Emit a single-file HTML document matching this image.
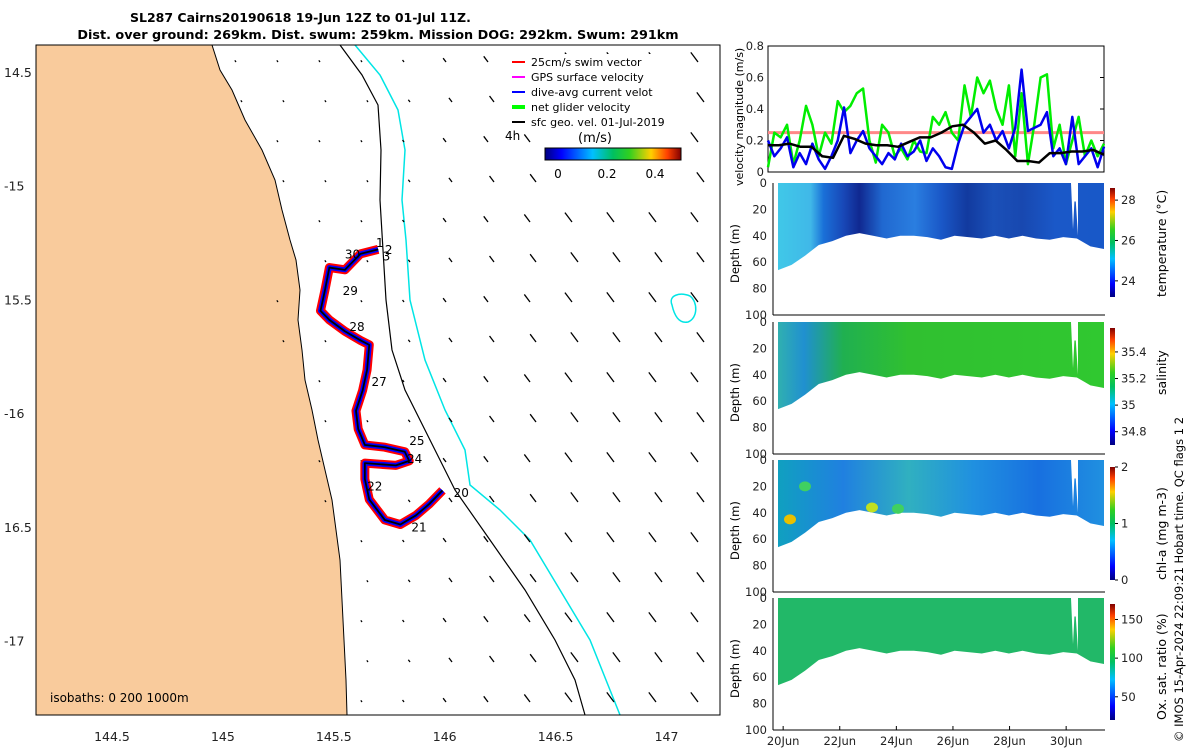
<!DOCTYPE html>
<html><head><meta charset="utf-8"><style>
body{margin:0;background:#fff;}
svg{display:block;font-family:"DejaVu Sans","Liberation Sans",sans-serif;}
</style></head><body>
<svg id="c" width="1200" height="750" xmlns="http://www.w3.org/2000/svg">
<defs>
<linearGradient id="jet" x1="0" y1="1" x2="0" y2="0">
<stop offset="0" stop-color="#00007f"/><stop offset="0.12" stop-color="#0000ff"/><stop offset="0.35" stop-color="#00c0ff"/><stop offset="0.5" stop-color="#00c060"/><stop offset="0.62" stop-color="#30d020"/><stop offset="0.78" stop-color="#ffd000"/><stop offset="0.9" stop-color="#ff4000"/><stop offset="1" stop-color="#800000"/></linearGradient>
<linearGradient id="jeth" x1="0" y1="0" x2="1" y2="0">
<stop offset="0" stop-color="#00007f"/><stop offset="0.12" stop-color="#0000ff"/><stop offset="0.35" stop-color="#00c0ff"/><stop offset="0.5" stop-color="#00c060"/><stop offset="0.62" stop-color="#30d020"/><stop offset="0.78" stop-color="#ffd000"/><stop offset="0.9" stop-color="#ff4000"/><stop offset="1" stop-color="#800000"/></linearGradient>
<linearGradient id="gT" x1="0" y1="0" x2="1" y2="0">
<stop offset="0" stop-color="#40c8e8"/><stop offset="0.1" stop-color="#40b8e8"/><stop offset="0.14" stop-color="#1a70d8"/><stop offset="0.2" stop-color="#1848b8"/><stop offset="0.25" stop-color="#102890"/><stop offset="0.32" stop-color="#2068d0"/><stop offset="0.42" stop-color="#2a7ee0"/><stop offset="0.5" stop-color="#1a58c8"/><stop offset="0.58" stop-color="#123a9f"/><stop offset="0.66" stop-color="#1a50b8"/><stop offset="0.75" stop-color="#1848b0"/><stop offset="0.85" stop-color="#1a58c8"/><stop offset="1" stop-color="#1858c8"/></linearGradient>
<linearGradient id="gS" x1="0" y1="0" x2="1" y2="0">
<stop offset="0" stop-color="#30b0b0"/><stop offset="0.08" stop-color="#2090d0"/><stop offset="0.2" stop-color="#20b050"/><stop offset="0.4" stop-color="#30c030"/><stop offset="1" stop-color="#30c830"/></linearGradient>
<linearGradient id="gC" x1="0" y1="0" x2="1" y2="0">
<stop offset="0" stop-color="#10a0c0"/><stop offset="0.2" stop-color="#2080e0"/><stop offset="0.4" stop-color="#30b0c0"/><stop offset="0.6" stop-color="#2090e0"/><stop offset="0.8" stop-color="#1870e0"/><stop offset="1" stop-color="#2090e0"/></linearGradient>
<clipPath id="mapclip"><rect x="36" y="45" width="684" height="670"/></clipPath>
</defs>
<rect x="0" y="0" width="1200" height="750" fill="#fff"/>
<text x="130" y="22" font-size="12.5" font-weight="bold">SL287 Cairns20190618 19-Jun 12Z to 01-Jul 11Z.</text>
<text x="378" y="39" font-size="12.8" font-weight="bold" text-anchor="middle">Dist. over ground: 269km. Dist. swum: 259km. Mission DOG: 292km. Swum: 291km</text>
<g id="map"></g>
<g id="right"></g>
<text transform="translate(1183,742) rotate(-90)" font-size="11.5">© IMOS 15-Apr-2024 22:09:21 Hobart time. QC flags 1  2</text>
</svg>
<script>
const NS="http://www.w3.org/2000/svg";
function mk(p,t,a){const e=document.createElementNS(NS,t);for(const k in a)e.setAttribute(k,a[k]);p.appendChild(e);return e;}
const map=document.getElementById('map'),R=document.getElementById('right');
// ---- map data
const lonTicks=[144.5,145,145.5,146,146.5,147];
const latTicks=[-14.5,-15,-15.5,-16,-16.5,-17];
const latLabels=["14.5","-15","15.5","-16","16.5","-17"];
const trackLon=[145.70,145.62,145.55,145.48,145.46,145.44,145.48,145.55,145.62,145.66,145.65,145.63,145.60,145.61,145.64,145.73,145.82,145.84,145.78,145.64,145.64,145.66,145.73,145.80,145.87,145.93,145.99];
const trackLat=[-15.28,-15.30,-15.37,-15.36,-15.46,-15.55,-15.59,-15.64,-15.68,-15.70,-15.81,-15.90,-15.99,-16.07,-16.14,-16.15,-16.17,-16.21,-16.23,-16.22,-16.29,-16.38,-16.47,-16.49,-16.45,-16.40,-16.34];
const dayLabels=["1","2","3","30","29","28","27","25","24","22","21","20"];
const dayLon=[145.69,145.73,145.72,145.55,145.54,145.57,145.67,145.84,145.83,145.65,145.85,146.04];
const dayLat=[-15.27,-15.30,-15.33,-15.32,-15.48,-15.64,-15.88,-16.14,-16.22,-16.34,-16.52,-16.37];
const X=l=>112+(l-144.5)*221.8, Y=l=>72+(-14.5-l)*227.4;
const mL=36,mR=720,mT=45,mB=715;
mk(map,'rect',{x:mL,y:mT,width:mR-mL,height:mB-mT,fill:'#fff'});
let land=mk(map,'path',{d:'M36,45 L212,45 L220,70 L232,90 L245,120 L262,150 L275,180 L282,210 L290,240 L296,260 L300,290 L298,320 L302,350 L305,380 L312,410 L318,440 L325,470 L332,500 L336,530 L340,560 L342,600 L344,640 L346,680 L347,715 L36,715 Z',fill:'#f9cb9c',stroke:'#000','stroke-width':1});

let i1=mk(map,'polyline',{points:'340,45 362,75 378,105 381,150 380,200 383,250 386,300 392,350 405,390 430,440 455,490 490,540 525,590 555,640 575,680 585,715',fill:'none',stroke:'#000','stroke-width':1.2});

let i2=mk(map,'polyline',{points:'355,45 380,75 398,110 405,150 402,200 406,240 410,300 425,360 445,410 465,450 470,485 500,510 530,540 560,590 590,640 610,690 620,715',fill:'none',stroke:'#00e5e5','stroke-width':1.5});

let eddy=mk(map,'path',{d:'M672,305 C668,295 680,292 690,296 C698,302 698,318 688,322 C678,324 674,314 672,305 Z',fill:'none',stroke:'#00e5e5','stroke-width':1.5});

const qg=mk(map,'g',{'clip-path':'url(#mapclip)'});
for(let gx=0;gx<16;gx++)for(let gy=0;gy<17;gy++){
 const x=110+gx*42+(gy%2)*6, y=62+gy*40;
 const coast=212+(y-45)*((y<300)?0.35:0.2);
 if(x<coast+10||x>715)continue;
 const len=Math.min(12,Math.max(2,(x-360)/18));
 let a=mk(qg,'line',{x1:x,y1:y,x2:x-len*0.6,y2:y-len*0.8,stroke:'#000','stroke-width':1.3});
 
}
const pts=trackLon.map((l,i)=>X(l)+','+Y(trackLat[i])).join(' ');
let tr1=mk(map,'polyline',{points:pts,fill:'none',stroke:'#ff0000','stroke-width':9,'stroke-linejoin':'round'});

let tr2=mk(map,'polyline',{points:pts,fill:'none',stroke:'#0000ff','stroke-width':5,'stroke-linejoin':'round'});

let tr3=mk(map,'polyline',{points:pts,fill:'none',stroke:'#000','stroke-width':1.8,'stroke-linejoin':'round'});

dayLabels.forEach((d,i)=>{let t=mk(map,'text',{x:X(dayLon[i]),y:Y(dayLat[i]),'font-size':12});t.textContent=d;
});
mk(map,'rect',{x:mL,y:mT,width:mR-mL,height:mB-mT,fill:'none',stroke:'#000'});
lonTicks.forEach(l=>{let t=mk(map,'text',{x:X(l),y:741,'font-size':12.5,'text-anchor':'middle',fill:'#222'});t.textContent=String(l);
});
latTicks.forEach((l,i)=>{let t=mk(map,'text',{x:4,y:Y(l)+5,'font-size':12.5,fill:'#222'});t.textContent=latLabels[i];
});
let iso=mk(map,'text',{x:50,y:702,'font-size':12});iso.textContent='isobaths: 0   200  1000m';

const legT=["25cm/s swim vector","GPS surface velocity","dive-avg current velot","net glider velocity","sfc geo. vel. 01-Jul-2019"];
const legC=["#ff0000","#ff00ff","#0000ff","#00ff00","#000000"];
mk(map,'rect',{x:508,y:54,width:175,height:76,fill:'#fff'});
legT.forEach((s,i)=>{const y=62+i*15;
 let l=mk(map,'line',{x1:512,y1:y,x2:525,y2:y,stroke:legC[i],'stroke-width':i==3?4:2});
 
 let t=mk(map,'text',{x:531,y:y+4,'font-size':11});t.textContent=s;
 });
let t4h=mk(map,'text',{x:505,y:140,'font-size':12});t4h.textContent='4h';
let ms=mk(map,'rect',{x:540,y:128,width:145,height:58,fill:'#fff'});
let mst=mk(map,'text',{x:595,y:142,'font-size':13,'text-anchor':'middle'});mst.textContent='(m/s)';

let cbm=mk(map,'rect',{x:545,y:148,width:136,height:12,fill:'url(#jeth)',stroke:'#000'});

[["0",558],["0.2",607],["0.4",655]].forEach(a=>{let t=mk(map,'text',{x:a[1],y:178,'font-size':12,'text-anchor':'middle'});t.textContent=a[0];});

// ---- right panels
const tx0=769, pxDay=28.3, T=d=>tx0+d*pxDay;
const dateLabels=["20Jun","22Jun","24Jun","26Jun","28Jun","30Jun"];
const dateDays=[0.5,2.5,4.5,6.5,8.5,10.5];
const velTicks=[0,0.2,0.4,0.6,0.8];
const greenV=[0.03,0.25,0.22,0.3,0.05,0.2,0.42,0.3,0.1,0.25,0.18,0.45,0.38,0.42,0.5,0.53,0.2,0.06,0.3,0.25,0.1,0.15,0.08,0.2,0.13,0.12,0.35,0.3,0.38,0.25,0.2,0.55,0.35,0.6,0.5,0.58,0.4,0.3,0.55,0.1,0.5,0.05,0.3,0.6,0.62,0.15,0.3,0.05,0.2,0.35,0.1,0.2,0.1,0.18];
const blueV=[0.2,0.1,0.15,0.22,0.03,0.12,0.05,0.18,0.08,0.02,0.1,0.2,0.41,0.12,0.2,0.26,0.15,0.1,0.05,0.12,0.08,0.18,0.1,0.13,0.2,0.07,0.15,0.1,0.03,0.02,0.18,0.3,0.35,0.4,0.25,0.3,0.2,0.26,0.15,0.28,0.65,0.26,0.28,0.3,0.38,0.1,0.15,0.05,0.35,0.05,0.1,0.15,0.03,0.16];
const blackV=[0.17,0.17,0.18,0.16,0.16,0.1,0.09,0.23,0.21,0.18,0.17,0.17,0.16,0.19,0.22,0.22,0.25,0.29,0.3,0.25,0.18,0.2,0.14,0.07,0.07,0.06,0.12,0.12,0.13,0.13,0.14,0.11];
const tempTicks=[24,26,28], salTicks=["34.8","35","35.2","35.4"], chlTicks=[0,1,2], oxTicks=[50,100,150];
const bottomDepth=[66,62,55,47,44,40,38,40,42,40,40,41,43,40,41,42,40,42,40,42,43,41,42,48,50];
const vx0=768,vx1=1104,vy0=172,vy1=46, V=v=>vy0+(vy0-vy1)*(-v/0.8);
mk(R,'rect',{x:vx0,y:vy1,width:vx1-vx0,height:vy0-vy1,fill:'#fff',stroke:'#000'});
let ref=mk(R,'line',{x1:vx0,y1:V(0.25),x2:vx1,y2:V(0.25),stroke:'#f88','stroke-width':3});

function series(arr,col,w,name){const n=arr.length;const p=arr.map((v,i)=>(vx0+i*(vx1-vx0)/(n-1))+','+V(v)).join(' ');
 let l=mk(R,'polyline',{points:p,fill:'none',stroke:col,'stroke-width':w,'stroke-linejoin':'round'});
 }
series(greenV,'#00ee00',2.5,'net-glider-velocity-line');
series(blueV,'#0000ee',2.5,'current-velocity-line');
series(blackV,'#000',2.5,'surface-geo-velocity-line');
velTicks.forEach(v=>{let t=mk(R,'text',{x:764,y:V(v)+4,'font-size':11.5,'text-anchor':'end',fill:'#222'});t.textContent=String(v);

mk(R,'line',{x1:vx1-4,y1:V(v),x2:vx1,y2:V(v),stroke:'#000'});});
let vt=mk(R,'text',{transform:'translate(743,186) rotate(-90)','font-size':11});vt.textContent='velocity magnitude (m/s)';

const panels=[{y:183,fill:'url(#gT)',lab:'temperature (°C)',cb:[188,297],ticks:tempTicks,tf:v=>(v-23.2)/(28.6-23.2),name:'temperature'},
{y:322,fill:'url(#gS)',lab:'salinity',cb:[328,445],ticks:salTicks,tf:v=>(v-34.7)/(35.58-34.7),name:'salinity'},
{y:460,fill:'url(#gC)',lab:'chl-a (mg m-3)',cb:[467,580],ticks:chlTicks,tf:v=>v/2,name:'chlorophyll'},
{y:598,fill:'#22b868',lab:'Ox. sat. ratio (%)',cb:[604,720],ticks:oxTicks,tf:v=>(v-20)/(170-20),name:'oxygen'}];
const px0=773,px1=1105,ph=132;
panels.forEach(P=>{
 const D=d=>P.y+d/100*ph;
 const n=bottomDepth.length;let d='M778,'+P.y;
 bottomDepth.forEach((b,i)=>{const x=778+i*(1104-778)/(n-1);d+=' L'+x+','+D(b);});
 d+=' L1104,'+P.y+' Z';
 let f=mk(R,'path',{d:d,fill:P.fill});
 mk(R,'path',{d:`M1071,${P.y} L1073,${D(35)} L1075,${D(5)} L1078,${D(40)} L1078,${P.y}Z`,fill:'#fff'});
 mk(R,'line',{x1:1075,y1:P.y,x2:1075,y2:D(14),stroke:'#fff','stroke-width':2});
 if(P.name==='chlorophyll'){[[790,45,'#e8c000'],[872,36,'#c0e020'],[898,37,'#40d060'],[805,20,'#40d060']].forEach(c=>mk(R,'ellipse',{cx:c[0],cy:D(c[1]),rx:6,ry:5,fill:c[2]}));}
 mk(R,'line',{x1:px0,y1:P.y+ph,x2:px1,y2:P.y+ph,stroke:'#000'});
 mk(R,'line',{x1:px0,y1:P.y,x2:px0,y2:P.y+ph,stroke:'#000'});
 [0,20,40,60,80,100].forEach(v=>{let t=mk(R,'text',{x:767,y:D(v)+4,'font-size':11.5,'text-anchor':'end',fill:'#222'});t.textContent=String(v);
  });
 let yl=mk(R,'text',{transform:`translate(739,${P.y+100}) rotate(-90)`,'font-size':11.5});yl.textContent='Depth (m)';
 
 let cb=mk(R,'rect',{x:1110,y:P.cb[0],width:5,height:P.cb[1]-P.cb[0],fill:'url(#jet)'});
 
 P.ticks.forEach(v=>{const y=P.cb[1]-P.tf(parseFloat(v))*(P.cb[1]-P.cb[0]);
  mk(R,'line',{x1:1115,y1:y,x2:1118,y2:y,stroke:'#000'});
  let t=mk(R,'text',{x:1121,y:y+4,'font-size':11.5,fill:'#222'});t.textContent=String(v);
  });
 let cl=mk(R,'text',{transform:`translate(1166,${P.name==='salinity'?395:P.cb[1]}) rotate(-90)`,'font-size':12.5});cl.textContent=P.lab;
 
});
dateLabels.forEach((s,i)=>{const x=T(dateDays[i]);
 mk(R,'line',{x1:x,y1:726,x2:x,y2:730,stroke:'#000'});
 let t=mk(R,'text',{x:x,y:745,'font-size':11.5,'text-anchor':'middle',fill:'#222'});t.textContent=s;
 });
</script>
</body></html>
